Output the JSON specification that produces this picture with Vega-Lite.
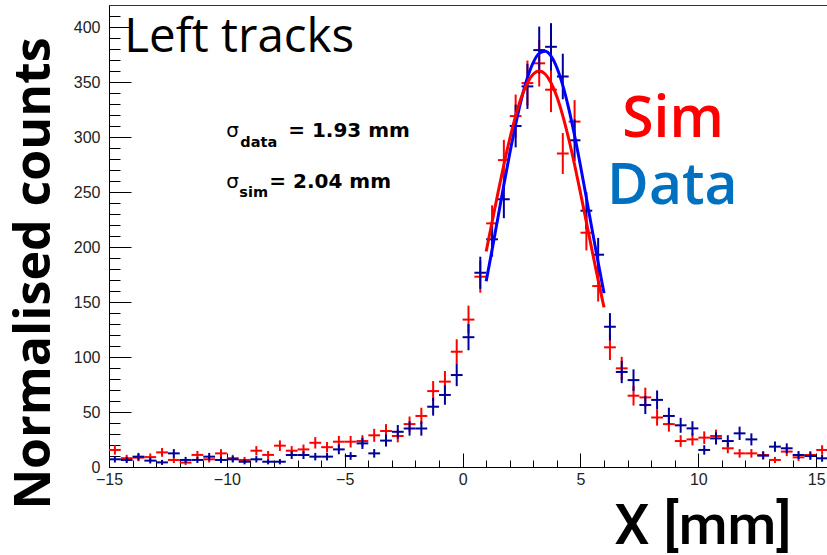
{
  "$schema": "https://vega.github.io/schema/vega-lite/v6.json",
  "width": 719,
  "height": 462,
  "autosize": {"type": "none"},
  "padding": {"left": 109, "top": 5, "right": 0, "bottom": 88},
  "background": "white",
  "config": {"view": {"stroke": "#333", "strokeWidth": 1}},
  "resolve": {"axis": {"x": "independent", "y": "independent"}},
  "datasets": {
    "hist": [
      {"g":"Sim","x":-14.75,"x0":-15,"x1":-14.5,"v":15.5,"e":4.3},
      {"g":"Sim","x":-14.25,"x0":-14.5,"x1":-14,"v":8,"e":3.1},
      {"g":"Sim","x":-13.75,"x0":-14,"x1":-13.5,"v":8.5,"e":3.2},
      {"g":"Sim","x":-13.25,"x0":-13.5,"x1":-13,"v":9,"e":3.3},
      {"g":"Sim","x":-12.75,"x0":-13,"x1":-12.5,"v":13.3,"e":4.0},
      {"g":"Sim","x":-12.25,"x0":-12.5,"x1":-12,"v":6.4,"e":2.8},
      {"g":"Sim","x":-11.75,"x0":-12,"x1":-11.5,"v":4,"e":2.2},
      {"g":"Sim","x":-11.25,"x0":-11.5,"x1":-11,"v":11,"e":3.6},
      {"g":"Sim","x":-10.75,"x0":-11,"x1":-10.5,"v":7,"e":2.9},
      {"g":"Sim","x":-10.25,"x0":-10.5,"x1":-10,"v":12.4,"e":3.9},
      {"g":"Sim","x":-9.75,"x0":-10,"x1":-9.5,"v":8,"e":3.1},
      {"g":"Sim","x":-9.25,"x0":-9.5,"x1":-9,"v":6.4,"e":2.8},
      {"g":"Sim","x":-8.75,"x0":-9,"x1":-8.5,"v":14.8,"e":4.2},
      {"g":"Sim","x":-8.25,"x0":-8.5,"x1":-8,"v":11,"e":3.6},
      {"g":"Sim","x":-7.75,"x0":-8,"x1":-7.5,"v":19.4,"e":4.8},
      {"g":"Sim","x":-7.25,"x0":-7.5,"x1":-7,"v":14.8,"e":4.2},
      {"g":"Sim","x":-6.75,"x0":-7,"x1":-6.5,"v":16,"e":4.4},
      {"g":"Sim","x":-6.25,"x0":-6.5,"x1":-6,"v":22,"e":5.2},
      {"g":"Sim","x":-5.75,"x0":-6,"x1":-5.5,"v":18,"e":4.7},
      {"g":"Sim","x":-5.25,"x0":-5.5,"x1":-5,"v":23,"e":5.3},
      {"g":"Sim","x":-4.75,"x0":-5,"x1":-4.5,"v":23,"e":5.3},
      {"g":"Sim","x":-4.25,"x0":-4.5,"x1":-4,"v":23.6,"e":5.3},
      {"g":"Sim","x":-3.75,"x0":-4,"x1":-3.5,"v":28.8,"e":5.9},
      {"g":"Sim","x":-3.25,"x0":-3.5,"x1":-3,"v":32.7,"e":6.3},
      {"g":"Sim","x":-2.75,"x0":-3,"x1":-2.5,"v":28.2,"e":5.8},
      {"g":"Sim","x":-2.25,"x0":-2.5,"x1":-2,"v":39,"e":6.9},
      {"g":"Sim","x":-1.75,"x0":-2,"x1":-1.5,"v":46.4,"e":7.5},
      {"g":"Sim","x":-1.25,"x0":-1.5,"x1":-1,"v":69,"e":9.1},
      {"g":"Sim","x":-0.75,"x0":-1,"x1":-0.5,"v":77.6,"e":9.7},
      {"g":"Sim","x":-0.25,"x0":-0.5,"x1":0,"v":104.8,"e":11.3},
      {"g":"Sim","x":0.25,"x0":0,"x1":0.5,"v":134,"e":12.7},
      {"g":"Sim","x":0.75,"x0":0.5,"x1":1,"v":173,"e":14.5},
      {"g":"Sim","x":1.25,"x0":1,"x1":1.5,"v":221.5,"e":16.4},
      {"g":"Sim","x":1.75,"x0":1.5,"x1":2,"v":279,"e":18.4},
      {"g":"Sim","x":2.25,"x0":2,"x1":2.5,"v":319,"e":19.6},
      {"g":"Sim","x":2.75,"x0":2.5,"x1":3,"v":349,"e":20.5},
      {"g":"Sim","x":3.25,"x0":3,"x1":3.5,"v":367,"e":21.1},
      {"g":"Sim","x":3.75,"x0":3.5,"x1":4,"v":343,"e":20.4},
      {"g":"Sim","x":4.25,"x0":4,"x1":4.5,"v":285,"e":18.6},
      {"g":"Sim","x":4.75,"x0":4.5,"x1":5,"v":314,"e":19.5},
      {"g":"Sim","x":5.25,"x0":5,"x1":5.5,"v":213,"e":16.1},
      {"g":"Sim","x":5.75,"x0":5.5,"x1":6,"v":164.5,"e":14.1},
      {"g":"Sim","x":6.25,"x0":6,"x1":6.5,"v":108.8,"e":11.5},
      {"g":"Sim","x":6.75,"x0":6.5,"x1":7,"v":89.7,"e":10.4},
      {"g":"Sim","x":7.25,"x0":7,"x1":7.5,"v":64.8,"e":8.9},
      {"g":"Sim","x":7.75,"x0":7.5,"x1":8,"v":63.3,"e":8.8},
      {"g":"Sim","x":8.25,"x0":8,"x1":8.5,"v":45,"e":7.4},
      {"g":"Sim","x":8.75,"x0":8.5,"x1":9,"v":39,"e":6.9},
      {"g":"Sim","x":9.25,"x0":9,"x1":9.5,"v":23.6,"e":5.3},
      {"g":"Sim","x":9.75,"x0":9.5,"x1":10,"v":25.1,"e":5.5},
      {"g":"Sim","x":10.25,"x0":10,"x1":10.5,"v":26.7,"e":5.7},
      {"g":"Sim","x":10.75,"x0":10.5,"x1":11,"v":28.2,"e":5.8},
      {"g":"Sim","x":11.25,"x0":11,"x1":11.5,"v":17,"e":4.5},
      {"g":"Sim","x":11.75,"x0":11.5,"x1":12,"v":12.4,"e":3.9},
      {"g":"Sim","x":12.25,"x0":12,"x1":12.5,"v":12.4,"e":3.9},
      {"g":"Sim","x":12.75,"x0":12.5,"x1":13,"v":10.9,"e":3.6},
      {"g":"Sim","x":13.25,"x0":13,"x1":13.5,"v":6.4,"e":2.8},
      {"g":"Sim","x":13.75,"x0":13.5,"x1":14,"v":14,"e":4.1},
      {"g":"Sim","x":14.25,"x0":14,"x1":14.5,"v":8.8,"e":3.3},
      {"g":"Sim","x":14.75,"x0":14.5,"x1":15,"v":10.9,"e":3.6},
      {"g":"Sim","x":15.25,"x0":15,"x1":15.5,"v":15.5,"e":4.3},
      {"g":"Data","x":-14.75,"x0":-15,"x1":-14.5,"v":7,"e":2.9},
      {"g":"Data","x":-14.25,"x0":-14.5,"x1":-14,"v":6.4,"e":2.8},
      {"g":"Data","x":-13.75,"x0":-14,"x1":-13.5,"v":9.4,"e":3.4},
      {"g":"Data","x":-13.25,"x0":-13.5,"x1":-13,"v":5.8,"e":2.6},
      {"g":"Data","x":-12.75,"x0":-13,"x1":-12.5,"v":4.2,"e":2.3},
      {"g":"Data","x":-12.25,"x0":-12.5,"x1":-12,"v":12.4,"e":3.9},
      {"g":"Data","x":-11.75,"x0":-12,"x1":-11.5,"v":6.4,"e":2.8},
      {"g":"Data","x":-11.25,"x0":-11.5,"x1":-11,"v":6.4,"e":2.8},
      {"g":"Data","x":-10.75,"x0":-11,"x1":-10.5,"v":9.4,"e":3.4},
      {"g":"Data","x":-10.25,"x0":-10.5,"x1":-10,"v":6.4,"e":2.8},
      {"g":"Data","x":-9.75,"x0":-10,"x1":-9.5,"v":7,"e":2.9},
      {"g":"Data","x":-9.25,"x0":-9.5,"x1":-9,"v":4.8,"e":2.4},
      {"g":"Data","x":-8.75,"x0":-9,"x1":-8.5,"v":7,"e":2.9},
      {"g":"Data","x":-8.25,"x0":-8.5,"x1":-8,"v":4.8,"e":2.4},
      {"g":"Data","x":-7.75,"x0":-8,"x1":-7.5,"v":4.8,"e":2.4},
      {"g":"Data","x":-7.25,"x0":-7.5,"x1":-7,"v":10.9,"e":3.6},
      {"g":"Data","x":-6.75,"x0":-7,"x1":-6.5,"v":10.9,"e":3.6},
      {"g":"Data","x":-6.25,"x0":-6.5,"x1":-6,"v":9.4,"e":3.4},
      {"g":"Data","x":-5.75,"x0":-6,"x1":-5.5,"v":9.4,"e":3.4},
      {"g":"Data","x":-5.25,"x0":-5.5,"x1":-5,"v":16,"e":4.4},
      {"g":"Data","x":-4.75,"x0":-5,"x1":-4.5,"v":10,"e":3.5},
      {"g":"Data","x":-4.25,"x0":-4.5,"x1":-4,"v":21.5,"e":5.1},
      {"g":"Data","x":-3.75,"x0":-4,"x1":-3.5,"v":12.4,"e":3.9},
      {"g":"Data","x":-3.25,"x0":-3.5,"x1":-3,"v":24,"e":5.4},
      {"g":"Data","x":-2.75,"x0":-3,"x1":-2.5,"v":32,"e":6.2},
      {"g":"Data","x":-2.25,"x0":-2.5,"x1":-2,"v":35,"e":6.5},
      {"g":"Data","x":-1.75,"x0":-2,"x1":-1.5,"v":35,"e":6.5},
      {"g":"Data","x":-1.25,"x0":-1.5,"x1":-1,"v":54.8,"e":8.1},
      {"g":"Data","x":-0.75,"x0":-1,"x1":-0.5,"v":65.5,"e":8.9},
      {"g":"Data","x":-0.25,"x0":-0.5,"x1":0,"v":83.6,"e":10.1},
      {"g":"Data","x":0.25,"x0":0,"x1":0.5,"v":118,"e":11.9},
      {"g":"Data","x":0.75,"x0":0.5,"x1":1,"v":176.6,"e":14.6},
      {"g":"Data","x":1.25,"x0":1,"x1":1.5,"v":207,"e":15.8},
      {"g":"Data","x":1.75,"x0":1.5,"x1":2,"v":243.4,"e":17.2},
      {"g":"Data","x":2.25,"x0":2,"x1":2.5,"v":310,"e":19.4},
      {"g":"Data","x":2.75,"x0":2.5,"x1":3,"v":346,"e":20.5},
      {"g":"Data","x":3.25,"x0":3,"x1":3.5,"v":379,"e":21.4},
      {"g":"Data","x":3.75,"x0":3.5,"x1":4,"v":382,"e":21.5},
      {"g":"Data","x":4.25,"x0":4,"x1":4.5,"v":355,"e":20.7},
      {"g":"Data","x":4.75,"x0":4.5,"x1":5,"v":297,"e":19},
      {"g":"Data","x":5.25,"x0":5,"x1":5.5,"v":233,"e":16.8},
      {"g":"Data","x":5.75,"x0":5.5,"x1":6,"v":193,"e":15.3},
      {"g":"Data","x":6.25,"x0":6,"x1":6.5,"v":127.5,"e":12.4},
      {"g":"Data","x":6.75,"x0":6.5,"x1":7,"v":86.4,"e":10.2},
      {"g":"Data","x":7.25,"x0":7,"x1":7.5,"v":79,"e":9.8},
      {"g":"Data","x":7.75,"x0":7.5,"x1":8,"v":56.4,"e":8.3},
      {"g":"Data","x":8.25,"x0":8,"x1":8.5,"v":61,"e":8.6},
      {"g":"Data","x":8.75,"x0":8.5,"x1":9,"v":46.4,"e":7.5},
      {"g":"Data","x":9.25,"x0":9,"x1":9.5,"v":37.9,"e":6.8},
      {"g":"Data","x":9.75,"x0":9.5,"x1":10,"v":35.1,"e":6.5},
      {"g":"Data","x":10.25,"x0":10,"x1":10.5,"v":15.5,"e":4.3},
      {"g":"Data","x":10.75,"x0":10.5,"x1":11,"v":26,"e":5.6},
      {"g":"Data","x":11.25,"x0":11,"x1":11.5,"v":23.6,"e":5.3},
      {"g":"Data","x":11.75,"x0":11.5,"x1":12,"v":30.6,"e":6.1},
      {"g":"Data","x":12.25,"x0":12,"x1":12.5,"v":25.1,"e":5.5},
      {"g":"Data","x":12.75,"x0":12.5,"x1":13,"v":10.3,"e":3.5},
      {"g":"Data","x":13.25,"x0":13,"x1":13.5,"v":18.5,"e":4.7},
      {"g":"Data","x":13.75,"x0":13.5,"x1":14,"v":17,"e":4.5},
      {"g":"Data","x":14.25,"x0":14,"x1":14.5,"v":10.9,"e":3.6},
      {"g":"Data","x":14.75,"x0":14.5,"x1":15,"v":10,"e":3.5},
      {"g":"Data","x":15.25,"x0":15,"x1":15.5,"v":7.9,"e":3.1}
    ],
    "fit": [
      {"g":"Data","x":1.0,"v":168.9},{"g":"Data","x":1.25,"v":197.4},{"g":"Data","x":1.5,"v":226.9},
      {"g":"Data","x":1.75,"v":256.5},{"g":"Data","x":2.0,"v":285.1},{"g":"Data","x":2.25,"v":311.5},
      {"g":"Data","x":2.5,"v":334.9},{"g":"Data","x":2.75,"v":353.9},{"g":"Data","x":3.0,"v":367.9},
      {"g":"Data","x":3.25,"v":376},{"g":"Data","x":3.5,"v":377.9},{"g":"Data","x":3.75,"v":373.5},
      {"g":"Data","x":4.0,"v":363},{"g":"Data","x":4.25,"v":346.9},{"g":"Data","x":4.5,"v":326},
      {"g":"Data","x":4.75,"v":301.3},{"g":"Data","x":5.0,"v":273.8},{"g":"Data","x":5.25,"v":244.7},
      {"g":"Data","x":5.5,"v":215},{"g":"Data","x":5.75,"v":185.8},{"g":"Data","x":6.0,"v":157.9},
      {"g":"Sim","x":1.0,"v":195.9},{"g":"Sim","x":1.25,"v":222.6},{"g":"Sim","x":1.5,"v":249.2},
      {"g":"Sim","x":1.75,"v":274.8},{"g":"Sim","x":2.0,"v":298.4},{"g":"Sim","x":2.25,"v":319.2},
      {"g":"Sim","x":2.5,"v":336.5},{"g":"Sim","x":2.75,"v":349.3},{"g":"Sim","x":3.0,"v":357.3},
      {"g":"Sim","x":3.25,"v":360},{"g":"Sim","x":3.5,"v":357.3},{"g":"Sim","x":3.75,"v":349.3},
      {"g":"Sim","x":4.0,"v":336.5},{"g":"Sim","x":4.25,"v":319.2},{"g":"Sim","x":4.5,"v":298.4},
      {"g":"Sim","x":4.75,"v":274.8},{"g":"Sim","x":5.0,"v":249.2},{"g":"Sim","x":5.25,"v":222.6},
      {"g":"Sim","x":5.5,"v":195.9},{"g":"Sim","x":5.75,"v":169.9},{"g":"Sim","x":6.0,"v":145.1}
    ]
  },
  "layer": [
    {
      "data": {"name": "hist"},
      "transform": [{"filter": "datum.g === 'Sim'"}],
      "mark": {"type": "rule", "color": "#ff0000", "strokeWidth": 2},
      "encoding": {
        "x": {
          "field": "x0", "type": "quantitative",
          "scale": {"domain": [-15, 15.5], "nice": false, "zero": false},
          "axis": {
            "orient": "bottom",
            "values": [-15, -10, -5, 0, 5, 10, 15],
            "tickSize": -14,
            "tickColor": "black", "tickWidth": 1,
            "domainColor": "black", "domainWidth": 1,
            "labelPadding": 18,
            "labelFont": "Liberation Sans", "labelFontSize": 16, "labelColor": "#222",
            "labelFlush": false, "labelOverlap": false, "grid": false,
            "title": "X [mm]", "titleFont": "Roboto", "titleFontWeight": 500, "titleFontSize": 56,
            "titleColor": "black", "titleX": 682, "titleY": 76, "titleAlign": "right", "titleBaseline": "alphabetic"
          }
        },
        "x2": {"field": "x1"},
        "y": {
          "field": "v", "type": "quantitative",
          "scale": {"domain": [0, 420], "nice": false, "zero": false},
          "axis": {
            "orient": "left",
            "values": [0, 50, 100, 150, 200, 250, 300, 350, 400],
            "tickSize": -22,
            "tickColor": "black", "tickWidth": 1,
            "domainColor": "black", "domainWidth": 1,
            "labelPadding": 31,
            "labelFont": "Liberation Sans", "labelFontSize": 16, "labelColor": "#222",
            "labelFlush": false, "labelOverlap": false, "grid": false,
            "title": "Normalised counts", "titleFont": "Open Sans", "titleFontWeight": "bold", "titleFontSize": 50,
            "titleColor": "black", "titleX": -60, "titleY": 268, "titleAlign": "center", "titleBaseline": "alphabetic", "titleAngle": 270
          }
        }
      }
    },
    {
      "data": {"name": "hist"},
      "transform": [{"filter": "datum.g === 'Sim'"}],
      "mark": {"type": "errorbar", "color": "#ff0000", "thickness": 2, "ticks": false},
      "encoding": {
        "x": {"field": "x", "type": "quantitative", "axis": null},
        "y": {"field": "v", "type": "quantitative", "axis": null},
        "yError": {"field": "e"}
      }
    },
    {
      "data": {"name": "hist"},
      "transform": [{"filter": "datum.g === 'Data'"}],
      "mark": {"type": "rule", "color": "#000099", "strokeWidth": 2},
      "encoding": {
        "x": {
          "field": "x0", "type": "quantitative",
          "axis": {
            "orient": "bottom",
            "values": [-14,-13,-12,-11,-9,-8,-7,-6,-4,-3,-2,-1,1,2,3,4,6,7,8,9,11,12,13,14],
            "tickSize": -7, "tickColor": "black", "tickWidth": 1,
            "labels": false, "domain": false, "grid": false, "title": null
          }
        },
        "x2": {"field": "x1"},
        "y": {
          "field": "v", "type": "quantitative",
          "axis": {
            "orient": "left",
            "values": [10,20,30,40,60,70,80,90,110,120,130,140,160,170,180,190,210,220,230,240,260,270,280,290,310,320,330,340,360,370,380,390,410],
            "tickSize": -11, "tickColor": "black", "tickWidth": 1,
            "labels": false, "domain": false, "grid": false, "title": null
          }
        }
      }
    },
    {
      "data": {"name": "hist"},
      "transform": [{"filter": "datum.g === 'Data'"}],
      "mark": {"type": "errorbar", "color": "#000099", "thickness": 2, "ticks": false},
      "encoding": {
        "x": {"field": "x", "type": "quantitative", "axis": null},
        "y": {"field": "v", "type": "quantitative", "axis": null},
        "yError": {"field": "e"}
      }
    },
    {
      "data": {"name": "fit"},
      "transform": [{"filter": "datum.g === 'Data'"}],
      "mark": {"type": "line", "color": "#0000ff", "strokeWidth": 3, "interpolate": "monotone"},
      "encoding": {
        "x": {"field": "x", "type": "quantitative", "axis": null},
        "y": {"field": "v", "type": "quantitative", "axis": null}
      }
    },
    {
      "data": {"name": "fit"},
      "transform": [{"filter": "datum.g === 'Sim'"}],
      "mark": {"type": "line", "color": "#ff0000", "strokeWidth": 3, "interpolate": "monotone"},
      "encoding": {
        "x": {"field": "x", "type": "quantitative", "axis": null},
        "y": {"field": "v", "type": "quantitative", "axis": null}
      }
    },
    {
      "data": {"values": [{"t": "Left tracks", "x": -14.35, "y": 377.3}]},
      "mark": {"type": "text", "font": "Open Sans", "fontSize": 47.5, "color": "black", "align": "left", "baseline": "alphabetic"},
      "encoding": {
        "x": {"field": "x", "type": "quantitative", "axis": null},
        "y": {"field": "y", "type": "quantitative", "axis": null},
        "text": {"field": "t"}
      }
    },
    {
      "data": {"values": [{"t": "Sim", "x": 6.77, "y": 300}]},
      "mark": {"type": "text", "font": "Open Sans", "fontWeight": 600, "fontSize": 57, "color": "#ff0000", "align": "left", "baseline": "alphabetic"},
      "encoding": {
        "x": {"field": "x", "type": "quantitative", "axis": null},
        "y": {"field": "y", "type": "quantitative", "axis": null},
        "text": {"field": "t"}
      }
    },
    {
      "data": {"values": [{"t": "Data", "x": 6.13, "y": 239.1}]},
      "mark": {"type": "text", "font": "Open Sans", "fontWeight": 600, "fontSize": 57, "color": "#0070c0", "align": "left", "baseline": "alphabetic"},
      "encoding": {
        "x": {"field": "x", "type": "quantitative", "axis": null},
        "y": {"field": "y", "type": "quantitative", "axis": null},
        "text": {"field": "t"}
      }
    },
    {
      "data": {"values": [{"t": "σ", "x": -10.03, "y": 299.7}, {"t": "σ", "x": -10.03, "y": 253.4}]},
      "mark": {"type": "text", "font": "DejaVu Sans", "fontSize": 20, "color": "black", "align": "left", "baseline": "alphabetic"},
      "encoding": {
        "x": {"field": "x", "type": "quantitative", "axis": null},
        "y": {"field": "y", "type": "quantitative", "axis": null},
        "text": {"field": "t"}
      }
    },
    {
      "data": {"values": [{"t": "data", "x": -9.43, "y": 291.2}, {"t": "sim", "x": -9.47, "y": 245.2}]},
      "mark": {"type": "text", "font": "DejaVu Sans", "fontWeight": "bold", "fontSize": 14.5, "color": "black", "align": "left", "baseline": "alphabetic"},
      "encoding": {
        "x": {"field": "x", "type": "quantitative", "axis": null},
        "y": {"field": "y", "type": "quantitative", "axis": null},
        "text": {"field": "t"}
      }
    },
    {
      "data": {"values": [{"t": "= 1.93 mm", "x": -7.4, "y": 299.7}, {"t": "= 2.04 mm", "x": -8.2, "y": 253.4}]},
      "mark": {"type": "text", "font": "DejaVu Sans", "fontWeight": "bold", "fontSize": 20, "color": "black", "align": "left", "baseline": "alphabetic"},
      "encoding": {
        "x": {"field": "x", "type": "quantitative", "axis": null},
        "y": {"field": "y", "type": "quantitative", "axis": null},
        "text": {"field": "t"}
      }
    }
  ]
}
